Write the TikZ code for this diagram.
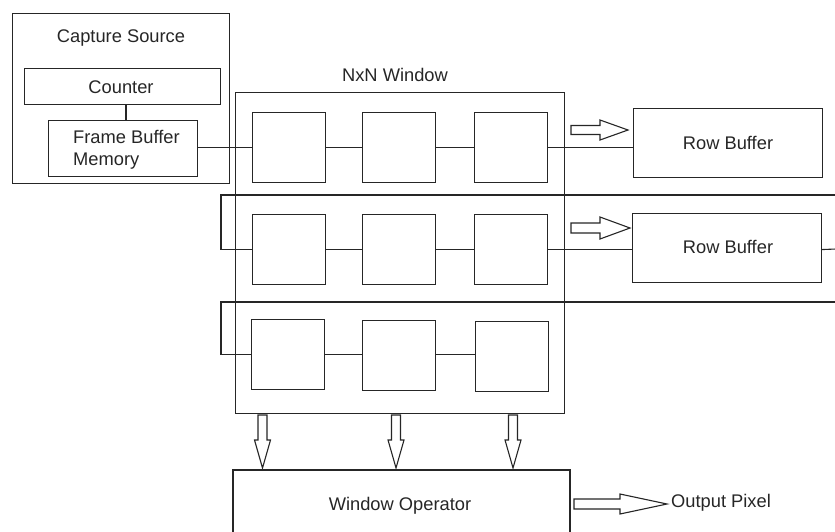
\documentclass[tikz,border=0pt]{standalone}
\usepackage{fontspec}
\setmainfont{Liberation Sans}
\begin{document}
\begin{tikzpicture}[x=1pt,y=-1pt,
  ln/.style={draw=black!85, line width=1.1pt},
  box/.style={ln, rectangle, inner sep=0pt, anchor=north west},
  cell/.style={box, minimum width=73pt, minimum height=70pt},
  lbl/.style={inner sep=0pt, font=\fontsize{18.3}{21.5}\selectfont, text=black!85},
  harrow/.style={ln, line join=miter, fill=white}]
\useasboundingbox (0,0) rectangle (835,531);
\clip (0,0) rectangle (835,531);
% Capture source
\node[box, minimum width=217pt, minimum height=170pt] (cap) at (12,13) {};
\node[lbl] (captxt) at (121,38) {Capture Source};
\node[box, minimum width=196pt, minimum height=36pt] (cnt) at (24,68) {};
\node[lbl] (cnttxt) at (121,87) {Counter};
\node[box, minimum width=149pt, minimum height=56pt] (fbm) at (48,120) {};
\node[lbl, anchor=west, align=left] (fbmtxt) at (73,150) {Frame Buffer\\Memory};
\draw[ln] (cnt.south -| 126,0) -- (fbm.north -| 126,0);
% NxN window
\node[box, minimum width=329pt, minimum height=321pt] (win) at (235,92) {};
\node[lbl] (wintxt) at (395,75) {NxN Window};
\node[cell] (b11) at (252,112) {};
\node[cell] (b12) at (362,112) {};
\node[cell] (b13) at (474,112) {};
\node[cell] (b21) at (252,214) {};
\node[cell] (b22) at (362,214) {};
\node[cell] (b23) at (474,214) {};
\node[cell] (b31) at (251,319) {};
\node[cell] (b32) at (362,320) {};
\node[cell] (b33) at (475,321) {};
% Row buffers
\node[box, minimum width=189pt, minimum height=69pt] (rb1) at (633,108) {};
\node[lbl] (rb1txt) at (728,143) {Row Buffer};
\node[box, minimum width=189pt, minimum height=69pt] (rb2) at (632,213) {};
\node[lbl] (rb2txt) at (728,247) {Row Buffer};
% Window operator
\draw[ln] (233,540) -- (233,470) -- (570,470) -- (570,540);
\coordinate (woTL) at (233,470);
\node[lbl] (wotxt) at (400,506) {Window Operator};
\node[lbl, anchor=west] (outtxt) at (671,503) {Output Pixel};
% row 1 connections
\draw[ln] (fbm.east |- b11.west) -- (b11.west);
\draw[ln] (b11) -- (b12);
\draw[ln] (b12) -- (b13);
\draw[ln] (b13.east) -- (b13.east -| rb1.west);
% row 2 feed
\coordinate (e2) at (836,195);
\coordinate (w2) at (221,195);
\draw[ln] (e2) -- (w2) |- (b21.west);
\draw[ln] (b21) -- (b22);
\draw[ln] (b22) -- (b23);
\draw[ln] (b23.east) -- (b23.east -| rb2.west);
\coordinate (e2b) at (836,249);
\draw[ln] (rb2.east |- b23.east) -- (e2b);
% row 3 feed
\coordinate (e3) at (836,302);
\coordinate (w3) at (221,302);
\draw[ln] (e3) -- (w3) |- (b31.west);
\draw[ln] (b31.east) -- (b31.east -| b32.west);
\draw[ln] (b31.east -| b32.east) -- (b31.east -| b33.west);
% hollow arrows to row buffers
\draw[harrow] (571,125.5) -- (600,125.5) -- (600,120) -- (628,130) -- (600,140) -- (600,134.5) -- (571,134.5) -- cycle;
\draw[harrow] (571,223) -- (600,223) -- (600,217) -- (630,228) -- (600,239) -- (600,233) -- (571,233) -- cycle;
% down arrows
\foreach \x in {262.5,396,513}{
  \draw[harrow] (\x-4.5,415) -- (\x-4.5,440) -- (\x-8,440) -- (\x,468) -- (\x+8,440) -- (\x+4.5,440) -- (\x+4.5,415) -- cycle;
}
% output arrow
\draw[harrow] (574,499) -- (620,499) -- (620,494) -- (667,504) -- (620,514) -- (620,509) -- (574,509) -- cycle;
\end{tikzpicture}
\end{document}
